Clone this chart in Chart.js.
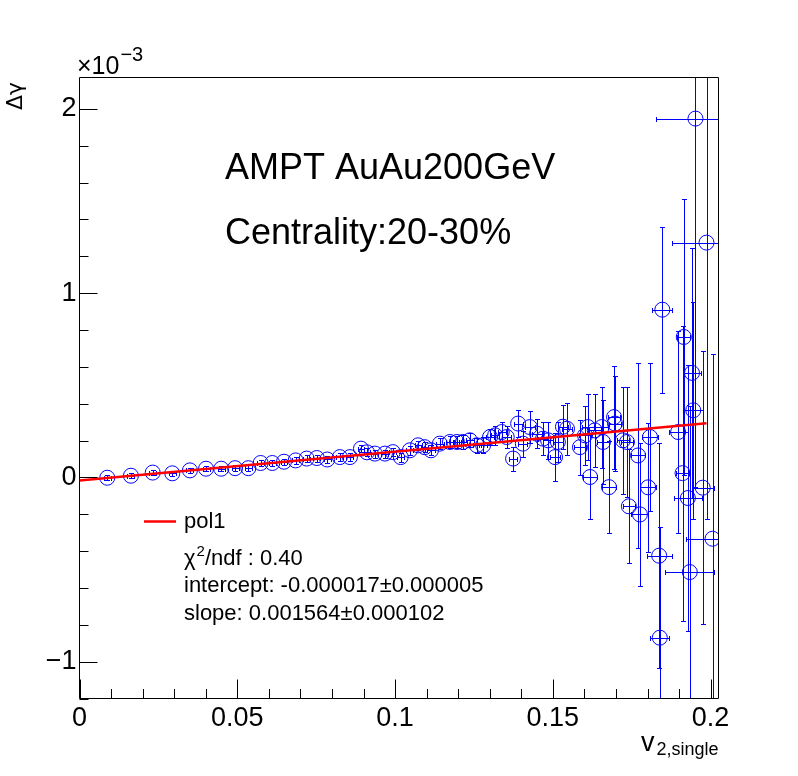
<!DOCTYPE html>
<html>
<head>
<meta charset="utf-8">
<title>Delta gamma vs v2</title>
<script src="https://cdn.jsdelivr.net/npm/chart.js@4.4.0/dist/chart.umd.min.js"></script>
<style>
  html, body { margin: 0; padding: 0; background: #fff; }
  #wrap { position: relative; width: 798px; height: 776px; }
</style>
</head>
<body>
<div id="wrap"><canvas id="chart"></canvas></div>
<script>
// ─── Data (Δγ in units of 1e-3) ─────────────────────────────
const v2 = [
    0.0088, 0.0163, 0.0232, 0.0294, 0.0350, 0.0401, 0.0449, 0.0493, 0.0535, 0.0574,
    0.0611, 0.0648, 0.0685, 0.0720, 0.0752, 0.0785, 0.0825, 0.0857, 0.0892, 0.0911,
    0.0936, 0.0968, 0.0993, 0.1018, 0.1047, 0.1073, 0.1094, 0.1114, 0.1142, 0.1174,
    0.1196, 0.1215, 0.1237, 0.1259, 0.1279, 0.1301, 0.1317, 0.1338, 0.1354, 0.1374,
    0.1390, 0.1405, 0.1427, 0.1450, 0.1469, 0.1485, 0.1507, 0.1516, 0.1532, 0.1545,
    0.1586, 0.1602, 0.1611, 0.1618, 0.1633, 0.1655, 0.1659, 0.1678, 0.1694, 0.1697,
    0.1722, 0.1735, 0.1741, 0.1770, 0.1776, 0.1802, 0.1808, 0.1837, 0.1839, 0.1847,
    0.1897, 0.1911, 0.1915, 0.1928, 0.1934, 0.1941, 0.1945, 0.1952, 0.1975, 0.1987,
    0.2006
];
const v2Err = [
    0.0011, 0.0011, 0.0011, 0.0011, 0.0011, 0.0011, 0.0011, 0.0011, 0.0011, 0.0011,
    0.0011, 0.0011, 0.0011, 0.0011, 0.0011, 0.0011, 0.0011, 0.0011, 0.0011, 0.0011,
    0.0011, 0.0011, 0.0011, 0.0011, 0.0011, 0.0011, 0.0011, 0.0012, 0.0012, 0.0012,
    0.0012, 0.0012, 0.0012, 0.0013, 0.0013, 0.0013, 0.0013, 0.0013, 0.0014, 0.0014,
    0.0014, 0.0014, 0.0015, 0.0015, 0.0015, 0.0015, 0.0016, 0.0016, 0.0016, 0.0017,
    0.0018, 0.0018, 0.0019, 0.0022, 0.0019, 0.0020, 0.0020, 0.0022, 0.0020, 0.0020,
    0.0020, 0.0020, 0.0020, 0.0022, 0.0027, 0.0025, 0.0025, 0.0040, 0.0030, 0.0032,
    0.0030, 0.0022, 0.0020, 0.0045, 0.0078, 0.0030, 0.0030, 0.0125, 0.0035, 0.0109,
    0.0085
];
const dGamma = [
    -0.002, 0.009, 0.026, 0.022, 0.038, 0.047, 0.047, 0.050, 0.050, 0.078,
    0.078, 0.085, 0.092, 0.102, 0.105, 0.097, 0.110, 0.110, 0.156, 0.136,
    0.129, 0.129, 0.137, 0.110, 0.147, 0.174, 0.164, 0.147, 0.183, 0.192,
    0.192, 0.192, 0.201, 0.174, 0.174, 0.219, 0.228, 0.246, 0.219, 0.102,
    0.292, 0.183, 0.273, 0.237, 0.210, 0.201, 0.110, 0.192, 0.275, 0.264,
    0.164, 0.228, 0.273, 0.002, 0.255, 0.273, 0.192, -0.053, 0.327, 0.292,
    0.201, 0.192, -0.157, 0.119, -0.201, -0.054, 0.219, -0.425, -0.870, 0.910,
    0.246, 0.023, 0.762, -0.112, -0.514, 0.567, 0.364, 1.947, -0.056, 1.274,
    -0.333
];
const dGammaErr = [
    0.013, 0.013, 0.013, 0.013, 0.014, 0.014, 0.015, 0.015, 0.016, 0.016,
    0.017, 0.017, 0.018, 0.018, 0.019, 0.019, 0.020, 0.020, 0.021, 0.021,
    0.022, 0.022, 0.023, 0.024, 0.025, 0.026, 0.027, 0.028, 0.030, 0.032,
    0.034, 0.036, 0.038, 0.040, 0.043, 0.046, 0.050, 0.055, 0.060, 0.065,
    0.075, 0.070, 0.085, 0.080, 0.090, 0.100, 0.130, 0.110, 0.120, 0.140,
    0.150, 0.160, 0.180, 0.230, 0.200, 0.220, 0.230, 0.250, 0.280, 0.260,
    0.290, 0.300, 0.310, 0.500, 0.390, 0.350, 0.400, 0.610, 0.600, 0.450,
    0.550, 0.800, 0.750, 0.720, 0.900, 0.680, 0.590, 2.000, 0.740, 1.500,
    1.000
];

// pol1 fit drawn over its range
const fitX = [0, 0.1987];
const fitY = [-0.017, 0.294];

const legendLines = [
    'intercept: -0.000017\u00b10.000005',
    'slope: 0.001564\u00b10.000102'
];

const FONT = '"Liberation Sans", Arial, Helvetica, sans-serif';
const BLUE = '#0000ff';
const CAP = 2.5;

// ─── Error bars (ROOT E1 style) ─────────────────────────────
// drawn before the datasets so the markers and the fit sit on top
const errorBars = {
    id: 'errorBars',
    beforeDatasetsDraw(chart) {
        const { ctx, chartArea: a, scales: { x, y } } = chart;
        const clip = new Path2D();
        clip.rect(a.left, a.top, a.right - a.left, a.bottom - a.top);
        const bars = new Path2D();
        v2.forEach((v, i) => {
            const cx = Math.round(x.getPixelForValue(v)) + 0.5;
            const cy = Math.round(y.getPixelForValue(dGamma[i])) + 0.5;
            const x0 = Math.round(x.getPixelForValue(v - v2Err[i])) + 0.5;
            const x1 = Math.round(x.getPixelForValue(v + v2Err[i])) + 0.5;
            const y0 = Math.round(y.getPixelForValue(dGamma[i] + dGammaErr[i])) + 0.5;
            const y1 = Math.round(y.getPixelForValue(dGamma[i] - dGammaErr[i])) + 0.5;
            bars.moveTo(cx, y0); bars.lineTo(cx, y1);
            bars.moveTo(x0, cy); bars.lineTo(x1, cy);
            bars.moveTo(cx - CAP, y0); bars.lineTo(cx + CAP, y0);
            bars.moveTo(cx - CAP, y1); bars.lineTo(cx + CAP, y1);
            bars.moveTo(x0, cy - CAP); bars.lineTo(x0, cy + CAP);
            bars.moveTo(x1, cy - CAP); bars.lineTo(x1, cy + CAP);
        });
        ctx.save();
        ctx.clip(clip);
        ctx.strokeStyle = BLUE;
        ctx.lineWidth = 1;
        ctx.stroke(bars);
        ctx.restore();
    }
};

// ─── Frame, inward ticks and texts ──────────────────────────
const rootFrame = {
    id: 'rootFrame',
    afterDraw(chart) {
        const { ctx, chartArea: a, scales: { x, y } } = chart;
        const ticks = new Path2D();
        ticks.rect(a.left, a.top, a.right - a.left, a.bottom - a.top);

        const xt = x.ticks.map(t => t.value);
        xt.forEach((v, i) => {
            const px = Math.round(x.getPixelForValue(v)) + 0.5;
            ticks.moveTo(px, a.bottom); ticks.lineTo(px, a.bottom - 19);
            if (i < xt.length - 1) {
                const step = (xt[i + 1] - v) / 5;
                for (let k = 1; k < 5; k++) {
                    const mx = Math.round(x.getPixelForValue(v + k * step)) + 0.5;
                    ticks.moveTo(mx, a.bottom); ticks.lineTo(mx, a.bottom - 9.5);
                }
            }
        });
        const yt = y.ticks.map(t => t.value);
        const ystep = (yt[1] - yt[0]) / 5;
        yt.forEach(v => {
            const py = Math.round(y.getPixelForValue(v)) + 0.5;
            ticks.moveTo(a.left, py); ticks.lineTo(a.left + 18, py);
            for (let k = 1; k < 5; k++) {
                const mv = v + k * ystep;
                if (mv > y.max) break;
                const my = Math.round(y.getPixelForValue(mv)) + 0.5;
                ticks.moveTo(a.left, my); ticks.lineTo(a.left + 9, my);
            }
        });
        const below = Math.round(y.getPixelForValue(yt[0] - ystep)) + 0.5;
        ticks.moveTo(a.left, below); ticks.lineTo(a.left + 9, below);

        ctx.save();
        ctx.strokeStyle = '#000';
        ctx.lineWidth = 1;
        ctx.stroke(ticks);

        ctx.fillStyle = '#000';
        ctx.textBaseline = 'alphabetic';
        ctx.textAlign = 'left';

        // ×10^-3 exponent
        ctx.font = '25px ' + FONT;
        ctx.fillText('\u00d710', 77, 74);
        const w10 = ctx.measureText('\u00d710').width;
        ctx.font = '20px ' + FONT;
        ctx.fillText('\u22123', 77 + w10 + 1, 61);

        // y title, rotated
        ctx.save();
        ctx.translate(22, 82);
        ctx.rotate(-Math.PI / 2);
        ctx.textAlign = 'right';
        ctx.font = '22px "DejaVu Sans", sans-serif';
        ctx.fillText('\u0394\u03b3', 0, 0);
        ctx.restore();

        // x title v_{2,single}, right-aligned to the frame
        ctx.font = '18px ' + FONT;
        const sub = '2,single';
        const wSub = ctx.measureText(sub).width;
        ctx.fillText(sub, a.right - wSub, 755);
        ctx.font = '27px ' + FONT;
        const wv = ctx.measureText('v').width;
        ctx.fillText('v', a.right - wSub - wv - 2, 751);

        // labels
        ctx.font = '36px ' + FONT;
        ctx.fillText('AMPT AuAu200GeV', 225, 179);
        ctx.fillText('Centrality:20-30%', 225, 244);

        // legend
        const key = new Path2D();
        key.moveTo(144, 521.5); key.lineTo(176, 521.5);
        ctx.strokeStyle = '#ff0000';
        ctx.lineWidth = 2.5;
        ctx.stroke(key);

        ctx.font = '22px ' + FONT;
        ctx.fillText('pol1', 184, 528);
        ctx.fillText('\u03c7', 184, 565);
        let wx = ctx.measureText('\u03c7').width;
        ctx.font = '15px ' + FONT;
        ctx.fillText('2', 184 + wx + 1, 556);
        wx += ctx.measureText('2').width + 1;
        ctx.font = '22px ' + FONT;
        ctx.fillText('/ndf : 0.40', 184 + wx, 565);
        ctx.fillText(legendLines[0], 184, 592);
        ctx.fillText(legendLines[1], 184, 620);
        ctx.restore();
    }
};

// ─── Chart ──────────────────────────────────────────────────
const tickFont = { family: FONT, size: 27 };

new Chart(document.getElementById('chart'), {
    type: 'scatter',
    data: {
        datasets: [
            {
                label: 'pol1',
                data: fitX.map((x, i) => ({ x, y: fitY[i] })),
                showLine: true,
                borderColor: '#ff0000',
                borderWidth: 2.5,
                pointRadius: 0,
                pointHoverRadius: 0
            },
            {
                label: 'data',
                data: v2.map((x, i) => ({ x, y: dGamma[i] })),
                pointStyle: 'circle',
                pointRadius: 7.5,
                pointHoverRadius: 7.5,
                borderColor: BLUE,
                borderWidth: 1,
                backgroundColor: 'rgba(0,0,0,0)'
            }
        ]
    },
    options: {
        responsive: true, maintainAspectRatio: false, animation: false,
        devicePixelRatio: 1,
        events: [],
        layout: { padding: { top: 77.5, right: 79.5, left: 0, bottom: 0 } },
        plugins: { legend: { display: false }, tooltip: { enabled: false } },
        scales: {
            x: {
                type: 'linear', position: 'bottom', min: 0, max: 0.2025,
                grid: { display: false, drawTicks: false },
                border: { display: false },
                ticks: {
                    stepSize: 0.05, includeBounds: false, autoSkip: false, maxRotation: 0,
                    padding: 4, color: '#000', font: tickFont,
                    callback: v => String(+v.toFixed(3))
                },
                afterFit: s => { s.height = 77.5; }
            },
            y: {
                type: 'linear', position: 'left', min: -1.2, max: 2.17,
                grid: { display: false, drawTicks: false },
                border: { display: false },
                ticks: {
                    stepSize: 1, includeBounds: false, padding: 3, color: '#000', font: tickFont,
                    callback: v => (v < 0 ? '\u2212' : '') + Math.abs(Math.round(v))
                },
                afterFit: s => { s.width = 79.5; }
            }
        }
    },
    plugins: [errorBars, rootFrame]
});
</script>
</body>
</html>
